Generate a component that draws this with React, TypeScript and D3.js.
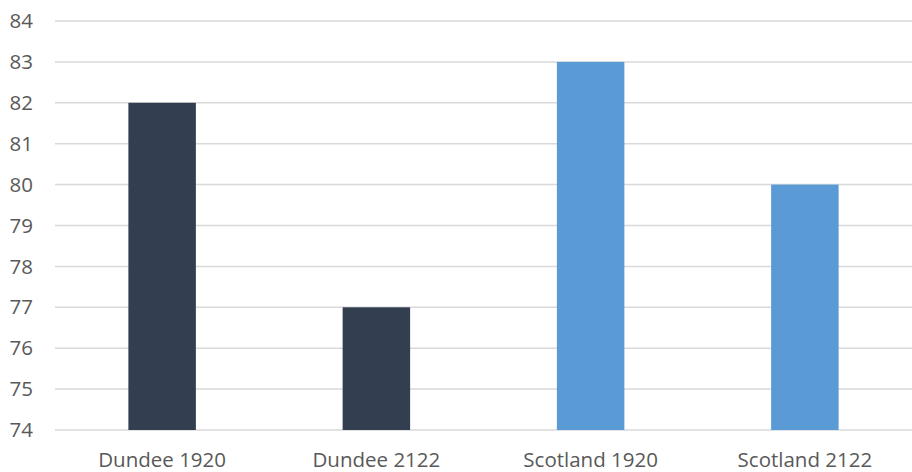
import React from "react";
import * as d3 from "d3";

const categories = ["Dundee 1920", "Dundee 2122", "Scotland 1920", "Scotland 2122"];
const values = [82, 77, 83, 80];
const colors = ["#333F50", "#333F50", "#5B9BD5", "#5B9BD5"];
const yTicks = [74, 75, 76, 77, 78, 79, 80, 81, 82, 83, 84];

const W = 912;
const H = 472;
const margin = { left: 55, right: 0, top: 21, bottom: 42 };

export default function App() {
  const x = d3
    .scaleBand<string>()
    .domain(categories)
    .range([margin.left, W - margin.right])
    .paddingInner(0.685)
    .paddingOuter(0.3425);
  const y = d3.scaleLinear().domain([74, 84]).range([H - margin.bottom, margin.top]);
  const font = "'Open Sans', sans-serif";
  return (
    <svg width={W} height={H} style={{ position: "absolute", left: 0, top: 0, background: "#fff" }}>
      {yTicks.map((t) => (
        <g key={t}>
          <line x1={margin.left} x2={W - margin.right} y1={y(t)} y2={y(t)} stroke="#D9D9D9" strokeWidth={1.5} />
          <text x={33} y={y(t)} dy="0.35em" textAnchor="end" fontFamily={font} fontSize={20.5} fill="#595959">
            {t}
          </text>
        </g>
      ))}
      {categories.map((c, i) => (
        <rect key={c} x={x(c)} width={x.bandwidth()} y={y(values[i])} height={y(74) - y(values[i])} fill={colors[i]} />
      ))}
      {categories.map((c) => (
        <text key={c} x={x(c)! + x.bandwidth() / 2} y={467} textAnchor="middle" fontFamily={font} fontSize={20.5} fill="#595959">
          {c}
        </text>
      ))}
    </svg>
  );
}
